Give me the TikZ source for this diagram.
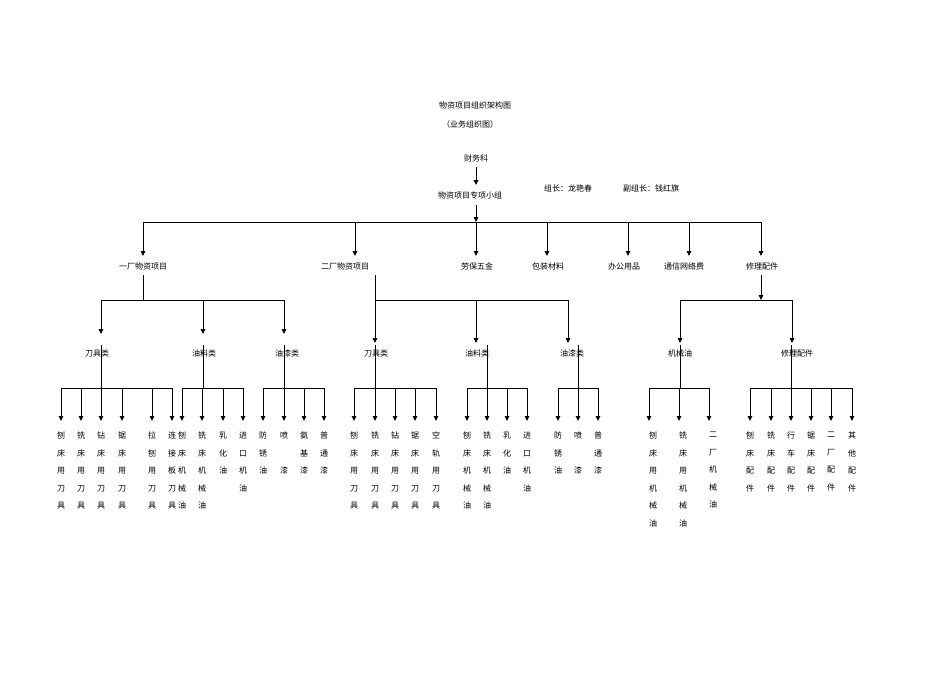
\documentclass[tikz,border=0pt]{standalone}
\usepackage{fontspec}
\newfontfamily\cjk{Noto Sans CJK SC}
\usetikzlibrary{arrows.meta}
\begin{document}
\begin{tikzpicture}[x=1pt,y=-1pt,
  lbl/.style={font=\cjk\fontsize{8}{10}\selectfont,inner sep=0pt},
  col/.style={font=\cjk\fontsize{8}{17.5}\selectfont,inner sep=0pt,anchor=north,align=center},
  ln/.style={line width=0.9pt},
  arr/.style={line width=0.9pt,-{Triangle[length=5pt,width=4.5pt]}}]
\useasboundingbox (0,0) rectangle (950,672);
\fill[white] (0,0) rectangle (950,672);
% titles
\node[lbl] (t1) at (475,105) {物资项目组织架构图};
\node[lbl] (t2) at (470,124) {（业务组织图）};
\node[lbl] (cwk) at (476,158) {财务科};
\node[lbl] (grp) at (470,195) {物资项目专项小组};
\node[lbl] (zz) at (568,188) {组长：龙艳春};
\node[lbl] (fzz) at (651,188) {副组长：钱红旗};
\draw[arr] (476,167) -- (476,185);
% level 1
\coordinate (b1) at (476,222);
\draw[arr] (476,205) -- (b1);
\draw[ln] (143,222) -- (761,222);
\node[lbl] (yc) at (143,266) {一厂物资项目};
\node[lbl] (ec) at (345,266) {二厂物资项目};
\node[lbl] (lb) at (477,266) {劳保五金};
\node[lbl] (bz) at (548,266) {包装材料};
\node[lbl] (bg) at (624,266) {办公用品};
\node[lbl] (tx) at (684,266) {通信网络费};
\node[lbl] (xl) at (762,266) {修理配件};
\foreach \x in {143,355,476,547,628,689,761} \draw[arr] (\x,222) -- (\x,256);
% level 2: 一厂
\draw[ln] (143,275) -- (143,300);
\draw[ln] (101,300) -- (284,300);
\foreach \x in {101,203,284} \draw[arr] (\x,300) -- (\x,334);
\node[lbl] (y1) at (97,353) {刀具类};
\node[lbl] (y2) at (204,353) {油料类};
\node[lbl] (y3) at (287,353) {油漆类};
% 二厂
\draw[line width=0.5pt] (375,275) -- (375,300);
\draw[ln] (375,300) -- (568,300);
\foreach \x in {375,476,568} \draw[arr] (\x,300) -- (\x,343);
\node[lbl] (e1) at (376,353) {刀具类};
\node[lbl] (e2) at (477,353) {油料类};
\node[lbl] (e3) at (572,353) {油漆类};
% 修理配件
\draw[arr] (761,275) -- (761,300);
\draw[ln] (680,300) -- (792,300);
\foreach \x in {680,792} \draw[arr] (\x,300) -- (\x,343);
\node[lbl] (x1) at (680,353) {机械油};
\node[lbl] (x2) at (797,353) {修理配件};
% level 3 bars
\foreach \c/\a/\b in {101/61/172,203/182/243,284/263/324,375/354/436,487/467/527,578/558/598,680/649/709,791/750/852}{
  \draw[ln] (\c,345) -- (\c,388);
  \draw[ln] (\a,388) -- (\b,388);
}
\foreach \x in {61,81,101,122,152,172,182,202,223,243,263,284,304,324,354,375,395,415,436,467,487,507,527,558,578,598,649,679,709,750,771,791,811,831,852}
  \draw[arr] (\x,388) -- (\x,421);
% leaves
\foreach \x/\t in {61/刨\\床\\用\\刀\\具,81/铣\\床\\用\\刀\\具,101/钻\\床\\用\\刀\\具,122/锯\\床\\用\\刀\\具,152/拉\\刨\\用\\刀\\具,172/连\\接\\板\\刀\\具,
  182/刨\\床\\机\\械\\油,202/铣\\床\\机\\械\\油,223/乳\\化\\油,243/进\\口\\机\\油,
  263/防\\锈\\油,284/喷\\\\漆,304/氨\\基\\漆,324/普\\通\\漆,
  354/刨\\床\\用\\刀\\具,375/铣\\床\\用\\刀\\具,395/钻\\床\\用\\刀\\具,415/锯\\床\\用\\刀\\具,436/空\\轨\\用\\刀\\具,
  467/刨\\床\\机\\械\\油,487/铣\\床\\机\\械\\油,507/乳\\化\\油,527/进\\口\\机\\油,
  558/防\\锈\\油,578/喷\\\\漆,598/普\\通\\漆,
  653/刨\\床\\用\\机\\械\\油,683/铣\\床\\用\\机\\械\\油,713/二\\厂\\机\\械\\油,
  750/刨\\床\\配\\件,771/铣\\床\\配\\件,791/行\\车\\配\\件,811/锯\\床\\配\\件,831/二\\厂\\配\\件,852/其\\他\\配\\件}
  \node[col] (leaf\x) at (\x,432) {\t};
\end{tikzpicture}
\end{document}
